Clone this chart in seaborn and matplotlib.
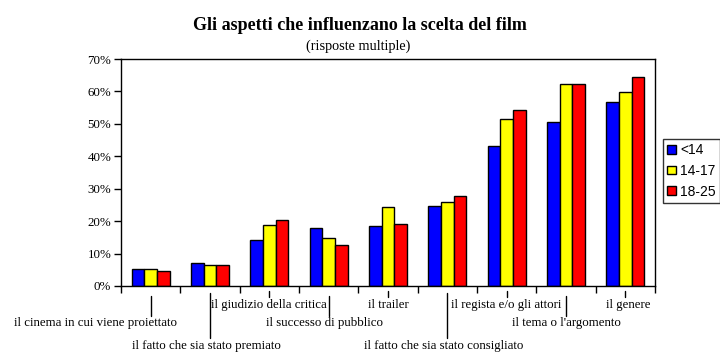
import numpy as np
import pandas as pd
import seaborn as sns
import matplotlib.pyplot as plt
from matplotlib.ticker import FuncFormatter
from matplotlib.transforms import blended_transform_factory, offset_copy
from matplotlib.patches import Patch

aspetti = ["il cinema in cui viene proiettato", "il fatto che sia stato premiato",
           "il giudizio della critica", "il successo di pubblico", "il trailer",
           "il fatto che sia stato consigliato", "il regista e/o gli attori",
           "il tema o l'argomento", "il genere"]
fasce = ["<14", "14-17", "18-25"]
meno14 = [5.1, 7.0, 14.1, 17.8, 18.4, 24.8, 43.2, 50.7, 56.6]
da14a17 = [5.1, 6.6, 18.7, 14.7, 24.5, 26.0, 51.5, 62.4, 59.7]
da18a25 = [4.5, 6.6, 20.5, 12.5, 19.0, 27.6, 54.3, 62.4, 64.6]
colori = ["#0000ff", "#ffff00", "#ff0000"]

# riga in cui sta l'etichetta (1 = vicino all'asse)
righe = [2, 3, 1, 2, 1, 3, 1, 2, 1]
# spostamento orizzontale delle etichette (pixel)
spost = [-55, -4, 0, -4, 0, -4, 0, 0, 3]

df = pd.DataFrame({
    "aspetto": aspetti * 3,
    "eta": [f for f in fasce for _ in aspetti],
    "valore": meno14 + da14a17 + da18a25,
})

sns.set_theme(style="ticks")
plt.rcParams["font.family"] = ["Liberation Serif", "DejaVu Serif"]
for k in ["text.color", "axes.labelcolor", "xtick.color", "ytick.color",
          "axes.edgecolor"]:
    plt.rcParams[k] = "black"

fig = plt.figure(figsize=(7.2, 3.61), dpi=100)
ax = fig.add_axes([121 / 720, 75 / 361, 534 / 720, 227 / 361])

sns.barplot(data=df, x="aspetto", y="valore", hue="eta", hue_order=fasce,
            order=aspetti, palette=colori, width=0.64, edgecolor="black",
            linewidth=1, saturation=1, legend=False, ax=ax)

ax.set_xlim(-0.5, len(aspetti) - 0.5)
ax.set_ylim(0, 70)
ax.set_yticks(range(0, 71, 10))
ax.yaxis.set_major_formatter(FuncFormatter(lambda v, p: "%d%%" % v))
ax.set_xticks(np.arange(-0.5, len(aspetti), 1))
ax.set_xticklabels([])
ax.set_xlabel("")
ax.set_ylabel("")
for s in ax.spines.values():
    s.set_visible(True)
    s.set_color("black")
    s.set_linewidth(1)
ax.tick_params(axis="both", direction="out", length=5, width=1, color="black",
               labelsize=9.3, labelcolor="black")
ax.tick_params(axis="y", pad=2)

# etichette sfalsate con linee guida
tr = blended_transform_factory(ax.transData, ax.transAxes)
h = 227.0
linee = {1: (5, 11), 2: (10, 30), 3: (7, 52)}
testo_y = {1: 19, 2: 37, 3: 60}
for i, (nome, r) in enumerate(zip(aspetti, righe)):
    y0, y1 = linee[r]
    ax.plot([i, i], [-y0 / h, -y1 / h], color="black", lw=1, transform=tr,
            clip_on=False)
    trt = offset_copy(tr, fig=fig, x=spost[i], y=0, units="dots")
    ax.text(i, -testo_y[r] / h, nome, transform=trt, ha="center", va="center",
            fontsize=9.3, color="black")

fig.text(0.5, 1 - 26 / 361, "Gli aspetti che influenzano la scelta del film",
         ha="center", va="center", fontsize=13, fontweight="bold")
fig.text(0.497, 1 - 46 / 361, "(risposte multiple)", ha="center",
         va="center", fontsize=10.3)

handles = [Patch(facecolor=c, edgecolor="black", lw=1) for c in colori]
leg = fig.legend(handles, fasce, loc="upper left",
                 bbox_to_anchor=(663 / 720, 1 - 139 / 361), borderaxespad=0,
                 frameon=True, fancybox=False, handlelength=0.6,
                 handleheight=0.6, handletextpad=0.35, labelspacing=0.48,
                 borderpad=0.3, prop={"family": "Liberation Sans", "size": 10})
leg.get_frame().set_edgecolor("black")
leg.get_frame().set_linewidth(1)

fig.savefig("out.png", dpi=100, facecolor="white")
